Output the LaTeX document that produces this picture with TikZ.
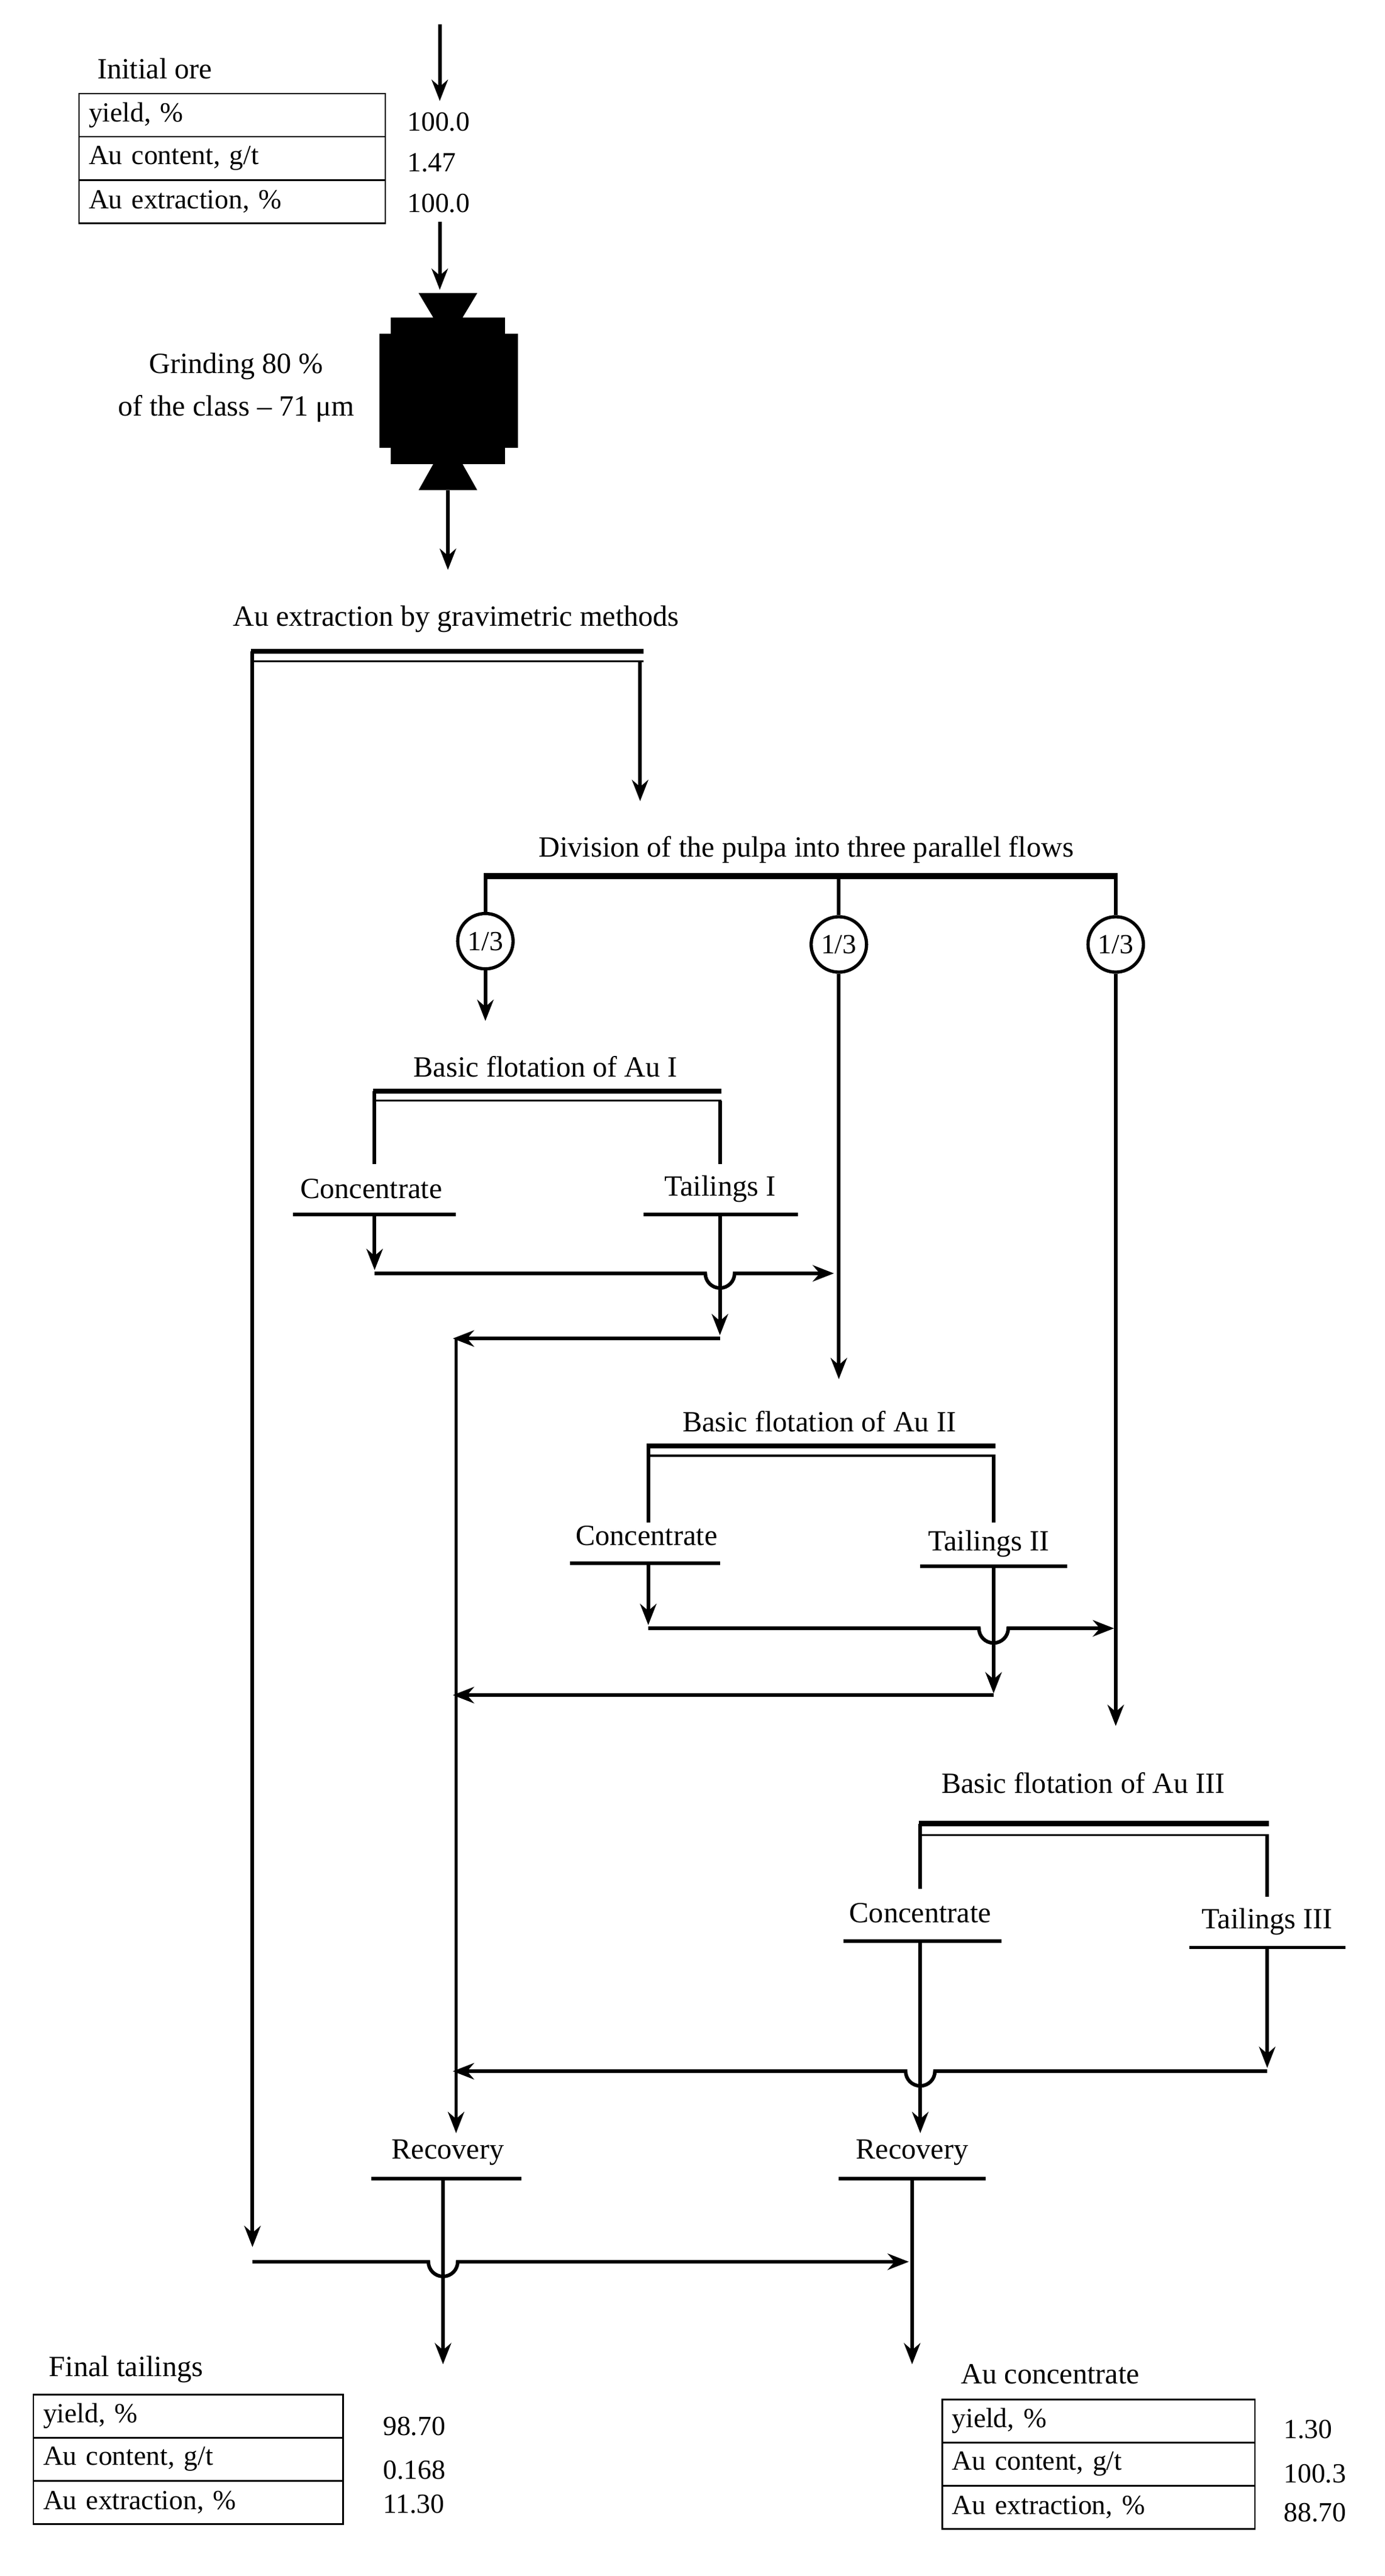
\documentclass[tikz,border=0pt]{standalone}
\usepackage{fontspec}
\setmainfont{Liberation Serif}
\usetikzlibrary{arrows.meta}
\begin{document}
\begin{tikzpicture}[x=1pt,y=-1pt,
  ln/.style={line width=2.2pt},
  ar/.style={ln,-{Stealth[length=13pt,width=10pt]}},
  txt/.style={font=\fontsize{18}{20}\selectfont,inner sep=0pt},
  val/.style={font=\fontsize{17}{19}\selectfont,inner sep=0pt},
  cell/.style={draw,line width=1pt,minimum width=#1,minimum height=26.5pt,anchor=north west,inner xsep=5pt,font=\fontsize{17}{19}\selectfont,text width=#1-12pt},
  circ/.style={draw,circle,line width=2pt,minimum size=34pt,inner sep=0pt,font=\fontsize{17}{19}\selectfont}]
\useasboundingbox (0,0) rectangle (850,1582);
% initial ore
\coordinate (t0) at (270,15); \coordinate (t1) at (270,62);
\draw[ar] (t0) -- (t1);
\node[txt] (io) at (95,42) {Initial ore};
\node[cell=188pt] (r1) at (48,57) {yield, \%};
\node[cell=188pt] (r2) at (48,83.5) {Au content, g/t};
\node[cell=188pt] (r3) at (48,110) {Au extraction, \%};
\node[val,anchor=west] (v1) at (250,75) {100.0};
\node[val,anchor=west] (v2) at (250,100) {1.47};
\node[val,anchor=west] (v3) at (250,125) {100.0};
\coordinate (g0) at (270,136); \coordinate (g1) at (270,178);
\draw[ar] (g0) -- (g1);
% grinder
\fill (257,180) -- (293,180) -- (284,195) -- (310,195) -- (310,205) -- (318,205) -- (318,275) -- (310,275) -- (310,285) -- (284,285) -- (293,301) -- (257,301) -- (266,285) -- (240,285) -- (240,275) -- (233,275) -- (233,205) -- (240,205) -- (240,195) -- (266,195) -- cycle;
\node[txt] (gr1) at (145,225) {Grinding 80 \%};
\node[txt] (gr2) at (145,251) {of the class -- 71 μm};
\coordinate (m0) at (275,301); \coordinate (m1) at (275,350);
\draw[ar] (m0) -- (m1);
\node[txt] (grav) at (280,380) {Au extraction by gravimetric methods};
\draw[line width=3pt] (154,400) -- (395,400);
\draw[line width=1.2pt] (154,406) -- (395,406);
\coordinate (L0) at (155,400); \coordinate (L1) at (155,1380);
\draw[ar] (L0) -- (L1);
\coordinate (R0) at (393,406); \coordinate (R1) at (393,492);
\draw[ar] (R0) -- (R1);
% division
\node[txt] (div) at (495,522) {Division of the pulpa into three parallel flows};
\draw[line width=3.5pt] (297,538) -- (686,538);
\node[circ] (c1) at (298,578) {1/3};
\node[circ] (c2) at (515,580) {1/3};
\node[circ] (c3) at (685,580) {1/3};
\draw[ln] (298,538) -- (c1); \draw[ln] (515,538) -- (c2); \draw[ln] (685,538) -- (c3);
\coordinate (c1e) at (298,627);
\draw[ar] (c1) -- (c1e);
\coordinate (c2e) at (515,847); \coordinate (c3e) at (685,1060);
\draw[ar] (c2) -- (c2e);
\draw[ar] (c3) -- (c3e);
% flotation I
\node[txt] (f1) at (335,655) {Basic flotation of Au I};
\draw[line width=3pt] (229,670) -- (443,670);
\draw[line width=1.2pt] (229,676) -- (443,676);
\draw[ln] (230,670) -- (230,715); \draw[ln] (442,676) -- (442,715);
\node[txt] (k1) at (228,730) {Concentrate};
\draw[ln] (180,746) -- (280,746);
\node[txt] (t1n) at (442,730) {Tailings I};
\draw[ln] (395,746) -- (490,746);
\coordinate (a1) at (230,746); \coordinate (a2) at (230,780);
\draw[ar] (a1) -- (a2);
\coordinate (h1) at (230,782); \coordinate (h2) at (512,782);
\draw[ar] (h1) -- (433,782) arc[start angle=180,end angle=0,radius=9] -- (h2);
\coordinate (b1) at (442,746); \coordinate (b2) at (442,820);
\draw[ar] (b1) -- (b2);
\coordinate (d1) at (442,822); \coordinate (d2) at (278,822);
\draw[ar] (d1) -- (d2);
\coordinate (V0) at (280,822); \coordinate (V1) at (280,1310);
\draw[ar] (V0) -- (V1);
% flotation II
\node[txt] (f2) at (503,873) {Basic flotation of Au II};
\draw[line width=3pt] (397,888) -- (611,888);
\draw[line width=1.2pt] (397,894) -- (611,894);
\draw[ln] (398,888) -- (398,935); \draw[ln] (610,894) -- (610,935);
\node[txt] (k2) at (397,943) {Concentrate};
\draw[ln] (350,960) -- (442,960);
\node[txt] (t2n) at (607,948) {Tailings II};
\draw[ln] (565,962) -- (655,962);
\coordinate (a3) at (398,960); \coordinate (a4) at (398,998);
\draw[ar] (a3) -- (a4);
\coordinate (h3) at (398,1000); \coordinate (h4) at (684,1000);
\draw[ar] (h3) -- (601,1000) arc[start angle=180,end angle=0,radius=9] -- (h4);
\coordinate (b3) at (610,962); \coordinate (b4) at (610,1040);
\draw[ar] (b3) -- (b4);
\coordinate (d3) at (610,1041); \coordinate (d4) at (278,1041);
\draw[ar] (d3) -- (d4);
% flotation III
\node[txt] (f3) at (665,1095) {Basic flotation of Au III};
\draw[line width=3.5pt] (564,1120) -- (779,1120);
\draw[line width=1.2pt] (564,1127) -- (779,1127);
\draw[ln] (565,1120) -- (565,1160); \draw[ln] (778,1127) -- (778,1165);
\node[txt] (k3) at (565,1175) {Concentrate};
\draw[ln] (518,1192) -- (615,1192);
\node[txt] (t3n) at (778,1180) {Tailings III};
\draw[ln] (730,1196) -- (826,1196);
\coordinate (a5) at (565,1192); \coordinate (a6) at (565,1310);
\draw[ar] (a5) -- (a6);
\coordinate (b5) at (778,1196); \coordinate (b6) at (778,1270);
\draw[ar] (b5) -- (b6);
\coordinate (d5) at (778,1272); \coordinate (d6) at (278,1272);
\draw[ar] (d5) -- (574,1272) arc[start angle=0,end angle=180,radius=9] -- (d6);
% recovery
\node[txt] (rec1) at (275,1322) {Recovery};
\draw[ln] (228,1338) -- (320,1338);
\node[txt] (rec2) at (560,1322) {Recovery};
\draw[ln] (515,1338) -- (605,1338);
\coordinate (e1) at (272,1338); \coordinate (e2) at (272,1452);
\draw[ar] (e1) -- (e2);
\coordinate (e3) at (560,1338); \coordinate (e4) at (560,1452);
\draw[ar] (e3) -- (e4);
\coordinate (h5) at (155,1389); \coordinate (h6) at (558,1389);
\draw[ar] (h5) -- (263,1389) arc[start angle=180,end angle=0,radius=9] -- (h6);
% final tailings
\node[txt,anchor=west] (ft) at (30,1455) {Final tailings};
\node[cell=190pt] (s1) at (20,1470) {yield, \%};
\node[cell=190pt] (s2) at (20,1496.5) {Au content, g/t};
\node[cell=190pt] (s3) at (20,1523) {Au extraction, \%};
\node[val,anchor=west] (w1) at (235,1490) {98.70};
\node[val,anchor=west] (w2) at (235,1517) {0.168};
\node[val,anchor=west] (w3) at (235,1538) {11.30};
% Au concentrate
\node[txt,anchor=west] (ac) at (590,1458) {Au concentrate};
\node[cell=192pt] (u1) at (578,1473) {yield, \%};
\node[cell=192pt] (u2) at (578,1499.5) {Au content, g/t};
\node[cell=192pt] (u3) at (578,1526) {Au extraction, \%};
\node[val,anchor=west] (x1) at (788,1492) {1.30};
\node[val,anchor=west] (x2) at (788,1519) {100.3};
\node[val,anchor=west] (x3) at (788,1543) {88.70};
\end{tikzpicture}
\end{document}
